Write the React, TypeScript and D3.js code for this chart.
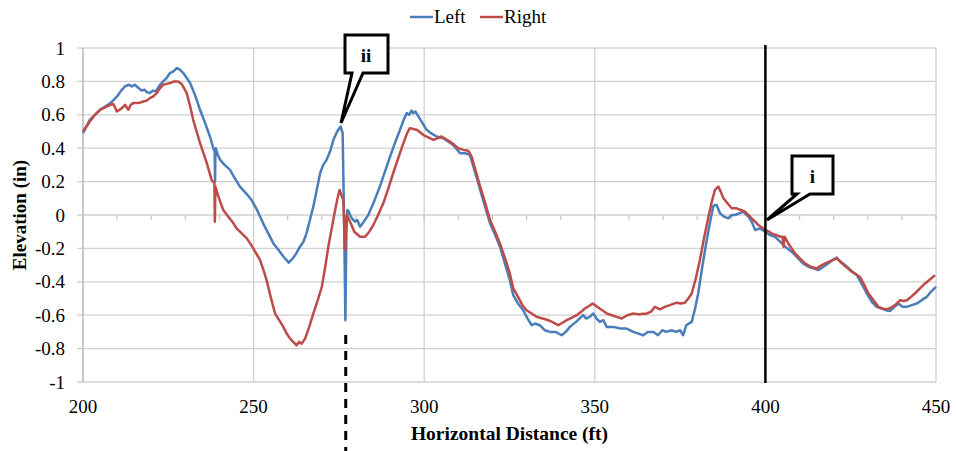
import React from "react";
import * as d3 from "d3";

const leftPts: [number, number][] = [[200,0.49],[201,0.53],[202,0.57],[203.5,0.6],[205,0.63],[206.5,0.65],[208,0.67],[209,0.69],[210,0.71],[211,0.74],[212.3,0.77],[213.5,0.78],[214.3,0.77],[215.2,0.78],[216,0.765],[217.2,0.745],[218,0.75],[218.8,0.735],[219.6,0.73],[220.5,0.745],[221.3,0.74],[222.6,0.78],[223.5,0.8],[224.5,0.82],[225.5,0.85],[226.5,0.86],[227.5,0.88],[228.4,0.87],[229.4,0.85],[230.4,0.82],[231.4,0.79],[232.8,0.72],[234.3,0.63],[235.8,0.55],[237.2,0.47],[238.2,0.40],[238.6,0.38],[238.7,0.20],[238.8,0.36],[238.9,0.40],[239.5,0.36],[240.2,0.33],[241.5,0.30],[243.1,0.27],[244.5,0.22],[246,0.17],[247.8,0.13],[249.4,0.09],[251,0.03],[252.8,-0.05],[254.3,-0.11],[255.8,-0.17],[257.3,-0.21],[258.8,-0.25],[260.3,-0.285],[261.5,-0.26],[262.5,-0.23],[263.6,-0.19],[264.6,-0.16],[265.5,-0.11],[266.5,-0.03],[267.5,0.05],[268.5,0.15],[269.5,0.25],[270.4,0.3],[271.4,0.33],[272.4,0.38],[273.4,0.45],[274.5,0.5],[275.5,0.53],[276.1,0.49],[276.5,0.0],[276.9,-0.63],[277.2,-0.1],[277.5,0.03],[277.9,0.02],[278.3,0.0],[278.8,-0.02],[279.7,-0.04],[280.4,-0.03],[281.2,-0.07],[282.3,-0.04],[283.6,0.0],[285.3,0.08],[287,0.17],[288.5,0.26],[290,0.35],[291.4,0.43],[292.9,0.51],[294,0.57],[294.9,0.61],[295.6,0.6],[296.3,0.625],[296.8,0.61],[297.4,0.62],[298.3,0.59],[299.5,0.55],[300.7,0.51],[302,0.49],[303.6,0.47],[305.6,0.46],[307,0.44],[308.5,0.42],[310.5,0.37],[312,0.37],[313.4,0.36],[315,0.25],[316.4,0.15],[318,0.04],[319.3,-0.05],[320.8,-0.12],[322.2,-0.19],[323.8,-0.3],[325.1,-0.39],[326.1,-0.48],[327.5,-0.53],[329,-0.57],[330.3,-0.62],[331.5,-0.66],[332.6,-0.65],[333.9,-0.66],[335.3,-0.69],[336.9,-0.70],[338.5,-0.7],[340.3,-0.72],[341.5,-0.7],[342.7,-0.67],[344.5,-0.64],[346.6,-0.60],[347.5,-0.62],[348.5,-0.61],[349.6,-0.59],[350.5,-0.62],[351.5,-0.64],[352.5,-0.63],[353.5,-0.67],[355.5,-0.67],[357.4,-0.68],[359.3,-0.68],[361.3,-0.70],[362.8,-0.71],[364.2,-0.72],[365.5,-0.70],[367.2,-0.70],[368.5,-0.72],[369.8,-0.69],[371,-0.70],[372.5,-0.69],[373.9,-0.70],[375,-0.69],[375.9,-0.72],[376.8,-0.66],[378.4,-0.64],[379.4,-0.56],[380.3,-0.47],[381.5,-0.31],[382.8,-0.15],[383.8,-0.04],[384.7,0.05],[385.2,0.06],[385.7,0.06],[386.7,0.01],[387.9,-0.01],[389.1,-0.02],[390.1,0.0],[391.1,0.0],[392.3,0.01],[393.5,0.02],[395,-0.01],[396,-0.04],[397,-0.09],[398.4,-0.08],[399.9,-0.1],[401.3,-0.12],[402.8,-0.13],[404.3,-0.16],[405.8,-0.19],[407.7,-0.22],[409.6,-0.26],[411,-0.29],[412.6,-0.31],[414,-0.32],[415.5,-0.33],[417,-0.31],[418.4,-0.29],[419.7,-0.27],[420.9,-0.255],[422,-0.28],[423.4,-0.30],[425,-0.33],[426.8,-0.36],[428.7,-0.43],[430,-0.48],[431.2,-0.52],[432.6,-0.55],[434.1,-0.56],[435.3,-0.57],[436.5,-0.575],[437.8,-0.55],[439,-0.53],[440.2,-0.55],[441.4,-0.55],[442.9,-0.54],[444.4,-0.53],[445.8,-0.51],[447.3,-0.49],[448.5,-0.46],[450,-0.43]];

const rightPts: [number, number][] = [[200,0.5],[201,0.53],[202,0.56],[203.5,0.6],[205,0.63],[206.5,0.645],[208,0.66],[208.9,0.665],[209.5,0.64],[209.9,0.62],[210.7,0.63],[211.4,0.64],[212.3,0.66],[213.3,0.63],[214,0.66],[214.7,0.67],[216.2,0.67],[217.7,0.68],[218.7,0.685],[219.6,0.70],[220.6,0.71],[221.6,0.73],[222.6,0.76],[223.5,0.78],[224.5,0.785],[225.5,0.79],[226.7,0.80],[227.9,0.80],[228.9,0.785],[229.6,0.76],[230.4,0.73],[231.3,0.66],[232.3,0.57],[233.3,0.5],[234.3,0.43],[235.3,0.37],[236.3,0.31],[237,0.26],[237.7,0.21],[238.5,0.19],[238.65,-0.04],[238.8,0.17],[239.7,0.11],[240.4,0.07],[241.1,0.03],[242.6,-0.01],[244.1,-0.05],[245,-0.08],[246,-0.10],[247,-0.12],[248,-0.14],[249,-0.17],[249.9,-0.20],[250.9,-0.235],[251.9,-0.27],[252.9,-0.33],[253.8,-0.39],[255,-0.49],[256.3,-0.59],[257.5,-0.63],[258.7,-0.67],[259.7,-0.71],[260.7,-0.74],[261.6,-0.76],[262.6,-0.78],[263.3,-0.76],[264.1,-0.77],[265.1,-0.74],[266.3,-0.67],[267.5,-0.59],[268.8,-0.51],[270,-0.43],[271,-0.31],[271.9,-0.19],[272.9,-0.08],[273.9,0.03],[274.6,0.1],[275.2,0.15],[275.7,0.12],[276.3,0.09],[276.8,-0.21],[277.3,0.0],[277.8,-0.02],[278.7,-0.06],[279.5,-0.1],[281.2,-0.13],[282.7,-0.13],[283.9,-0.1],[285.1,-0.06],[286.5,0.0],[288,0.07],[289.5,0.16],[290.9,0.25],[292.4,0.34],[293.9,0.43],[295,0.49],[295.8,0.52],[296.8,0.515],[297.8,0.51],[298.8,0.495],[299.7,0.48],[301.2,0.465],[302.7,0.45],[304,0.46],[305.1,0.47],[306.3,0.455],[307.5,0.44],[308.8,0.42],[310,0.40],[311.5,0.39],[312.9,0.385],[313.9,0.35],[315,0.27],[316.4,0.17],[317.9,0.07],[319.3,-0.03],[320.8,-0.1],[322.2,-0.17],[323.7,-0.26],[325.1,-0.35],[326.1,-0.44],[327.5,-0.49],[328.8,-0.54],[330,-0.57],[331.5,-0.59],[333,-0.61],[334.7,-0.62],[336.4,-0.63],[337.9,-0.645],[339.3,-0.66],[340.5,-0.645],[341.8,-0.63],[343.3,-0.615],[344.7,-0.60],[346,-0.58],[347.1,-0.56],[348.3,-0.545],[349.4,-0.53],[350.4,-0.545],[351.4,-0.56],[352.5,-0.575],[353.5,-0.59],[355,-0.60],[356.4,-0.61],[357.9,-0.62],[359.5,-0.60],[361.3,-0.59],[363,-0.595],[365.2,-0.59],[366.4,-0.58],[367.6,-0.55],[369.1,-0.565],[370.5,-0.55],[372,-0.54],[374,-0.525],[375.2,-0.53],[376.4,-0.525],[377.4,-0.5],[378.4,-0.47],[379.6,-0.38],[380.8,-0.27],[382,-0.14],[383.3,-0.01],[384.3,0.08],[385.2,0.15],[386.2,0.17],[386.9,0.14],[387.7,0.10],[388.9,0.07],[390.1,0.04],[391.6,0.04],[392.8,0.03],[394,0.02],[395,0.0],[396,-0.02],[397,-0.04],[397.9,-0.06],[399,-0.075],[399.9,-0.09],[401.1,-0.10],[402.3,-0.115],[403.3,-0.12],[404.3,-0.13],[405,-0.13],[405.3,-0.19],[405.6,-0.13],[407,-0.18],[408.7,-0.23],[410.1,-0.26],[411.6,-0.29],[413.3,-0.31],[415,-0.32],[416.2,-0.305],[417.5,-0.29],[419.2,-0.275],[420.9,-0.26],[422,-0.28],[423,-0.30],[424.2,-0.32],[425.3,-0.34],[426.5,-0.355],[427.7,-0.37],[429,-0.42],[430.2,-0.47],[431.7,-0.51],[433.1,-0.55],[434.3,-0.56],[435.5,-0.565],[436.8,-0.555],[438,-0.54],[439.5,-0.51],[440.5,-0.515],[441.5,-0.51],[442.7,-0.49],[443.8,-0.47],[445.3,-0.44],[446.8,-0.41],[448.3,-0.385],[449.7,-0.36]];

const leftDistance = leftPts.map((p) => p[0]);
const leftElevation = leftPts.map((p) => p[1]);
const rightDistance = rightPts.map((p) => p[0]);
const rightElevation = rightPts.map((p) => p[1]);

const xTicks = [200, 250, 300, 350, 400, 450];
const xMinorTicks = d3.range(200, 451, 10);
const yTicks = [-1, -0.8, -0.6, -0.4, -0.2, 0, 0.2, 0.4, 0.6, 0.8, 1];
const yTickLabels = ["-1", "-0.8", "-0.6", "-0.4", "-0.2", "0", "0.2", "0.4", "0.6", "0.8", "1"];
const seriesNames = ["Left", "Right"];
const seriesColors = ["#4a7ebb", "#be4b48"];
const markerSolidX = 400;
const markerDashedX = 277;

const W = 956;
const H = 451;
const L = 83, R = 936, T = 48, B = 382;
const FONT = "Liberation Serif, Tinos, Times New Roman, DejaVu Serif, serif";
const txt: React.CSSProperties = { fontFamily: FONT };

export default function App() {
  const x = d3.scaleLinear().domain([200, 450]).range([L, R]);
  const y = d3.scaleLinear().domain([-1, 1]).range([B, T]);
  const line = d3.line<[number, number]>().x((d) => x(d[0])).y((d) => y(d[1]));
  const left: [number, number][] = leftDistance.map((v, i) => [v, leftElevation[i]]);
  const right: [number, number][] = rightDistance.map((v, i) => [v, rightElevation[i]]);
  const grid = "#d0d0d0";

  return (
    <svg width={W} height={H} style={{ position: "absolute", left: 0, top: 0, background: "#fff" }}>
      <rect x={0} y={0} width={W} height={H} fill="#fff" />
      {yTicks.map((t) => (
        <line key={"gy" + t} x1={L - 6} x2={R} y1={y(t)} y2={y(t)} stroke={grid} strokeWidth={1.3} />
      ))}
      {xTicks.map((t) => (
        <line key={"gx" + t} x1={x(t)} x2={x(t)} y1={T} y2={B} stroke={grid} strokeWidth={1.3} />
      ))}
      {xMinorTicks.map((t) => (
        <line key={"mt" + t} x1={x(t)} x2={x(t)} y1={y(0)} y2={y(0) + 5} stroke="#c8c8c8" strokeWidth={1.3} />
      ))}
      <line x1={L} x2={L} y1={T} y2={B} stroke="#bdbdbd" strokeWidth={1.3} />
      {yTicks.map((t, i) => (
        <text key={"ty" + t} x={65} y={y(t)} dy="0.35em" textAnchor="end" style={txt} fontSize={19} fill="#000">
          {yTickLabels[i]}
        </text>
      ))}
      {xTicks.map((t) => (
        <text key={"tx" + t} x={x(t)} y={413} textAnchor="middle" style={txt} fontSize={19} fill="#000">
          {t}
        </text>
      ))}
      <text x={(L + R) / 2} y={440} textAnchor="middle" style={txt} fontSize={19.5} fontWeight="bold">
        Horizontal Distance (ft)
      </text>
      <text transform={`translate(26,${(T + B) / 2}) rotate(-90)`} textAnchor="middle" style={txt} fontSize={19} fontWeight="bold">
        Elevation (in)
      </text>
      <path d={line(left) || ""} fill="none" stroke={seriesColors[0]} strokeWidth={2.5} strokeLinejoin="round" />
      <path d={line(right) || ""} fill="none" stroke={seriesColors[1]} strokeWidth={2.5} strokeLinejoin="round" />
      <line x1={x(markerSolidX)} x2={x(markerSolidX)} y1={45} y2={B + 1} stroke="#000" strokeWidth={2.5} />
      <line x1={x(markerDashedX)} x2={x(markerDashedX)} y1={335} y2={H} stroke="#000" strokeWidth={3} strokeDasharray="9,7" />
      <path d="M345,35 H388 V73 H363 L341,123 L352,73 H345 Z" fill="#fff" stroke="#000" strokeWidth={3} strokeLinejoin="miter" />
      <text x={366} y={62} textAnchor="middle" style={txt} fontSize={19} fontWeight="bold">ii</text>
      <path d="M792,156 H833 V194 H810 L767,220 L797,194 H792 Z" fill="#fff" stroke="#000" strokeWidth={3} strokeLinejoin="miter" />
      <text x={812.5} y={183} textAnchor="middle" style={txt} fontSize={19} fontWeight="bold">i</text>
      {seriesNames.map((n, i) => (
        <g key={n} transform={`translate(${i === 0 ? 410 : 480},0)`}>
          <line x1={0} x2={23} y1={17} y2={17} stroke={seriesColors[i]} strokeWidth={2.5} />
          <text x={24} y={23} style={txt} fontSize={19} fill="#000">{n}</text>
        </g>
      ))}
    </svg>
  );
}
